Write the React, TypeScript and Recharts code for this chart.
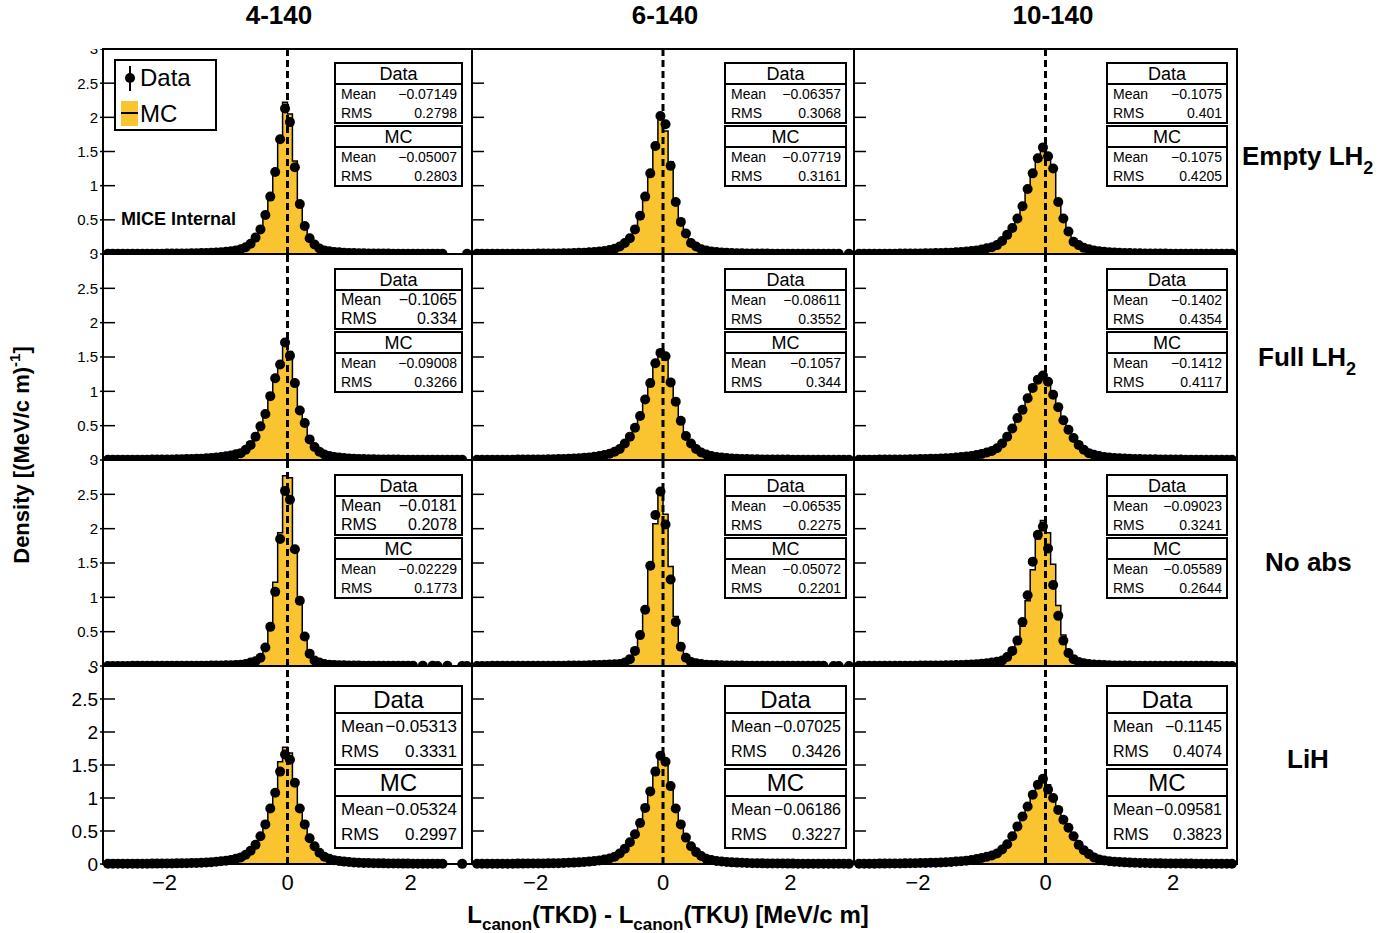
import React from "react";
import {
  ComposedChart,
  Area,
  Line,
  XAxis,
  YAxis,
  ReferenceLine,
} from "recharts";

// bin centres: 0.08 wide bins, x from -3 to 3
const binCenters = [
  -2.92, -2.84, -2.76, -2.68, -2.6, -2.52, -2.44, -2.36, -2.28, -2.2,
  -2.12, -2.04, -1.96, -1.88, -1.8, -1.72, -1.64, -1.56, -1.48, -1.4,
  -1.32, -1.24, -1.16, -1.08, -1.0, -0.92, -0.84, -0.76,
  -0.68, -0.6, -0.52, -0.44, -0.36, -0.28, -0.2, -0.12, -0.04,
  0.04, 0.12, 0.2, 0.28, 0.36, 0.44, 0.52, 0.6, 0.68,
  0.76, 0.84, 0.92, 1.0, 1.08, 1.16, 1.24, 1.32, 1.4, 1.48,
  1.56, 1.64, 1.72, 1.8, 1.88, 1.96, 2.04, 2.12, 2.2, 2.28,
  2.36, 2.44, 2.52, 2.6, 2.68, 2.76, 2.84, 2.92,
];

const columnTitles = ["4-140", "6-140", "10-140"];
const xTicks = [-2, 0, 2];
const yTicks = [0, 0.5, 1, 1.5, 2, 2.5, 3];

// ---- Empty LH2 ----
const empty4Data = [
  .002, .002, .002, .003, .003, .003, .003, .004, .004, .004,
  .005, .005, .006, .006, .007, .008, .009, .010, .011, .013,
  .015, .018, .021, .026, .032, .040, .052, .070,
  .10, .15, .24, .36, .57, .84, 1.20, 1.68, 2.13,
  1.93, 1.27, .73, .41, .23, .14, .08, .05, .04,
  .030, .024, .019, .016, .013, .011, .010, .009, .008, .007,
  .006, .006, .005, .005, .004, .004, .004, .003, .003, .003,
  .002, .002, .002, null, null, null, null, .002,
];
const empty4Mc = [
  .002, .002, .003, .003, .003, .003, .004, .004, .004, .005,
  .005, .005, .006, .007, .007, .008, .009, .010, .012, .013,
  .016, .018, .022, .026, .033, .041, .053, .071,
  .10, .15, .23, .37, .56, .85, 1.24, 1.71, 2.22,
  2.05, 1.36, .74, .40, .22, .13, .08, .05, .04,
  .031, .024, .020, .016, .014, .012, .010, .009, .008, .007,
  .006, .006, .005, .005, .004, .004, .004, .003, .003, .003,
  .002, .002, .002, .002, .001, .001, .001, .001,
];
const empty6Data = [
  .002, .002, .003, .003, .003, .003, .004, .004, .004, .005,
  .005, .005, .006, .007, .007, .008, .009, .011, .012, .014,
  .017, .020, .024, .029, .036, .045, .058, .078,
  .11, .16, .23, .36, .56, .84, 1.18, 1.58, 2.02,
  1.90, 1.29, .76, .47, .30, .16, .11, .07, .05,
  .036, .028, .022, .018, .015, .012, .011, .009, .008, .007,
  .007, .006, .005, .005, .004, .004, .004, .003, .003, .003,
  .003, .002, .002, .002, .002, .002, null, .002,
];
const empty6Mc = [
  .002, .002, .003, .003, .003, .004, .004, .004, .005, .005,
  .005, .006, .006, .007, .008, .009, .010, .011, .013, .015,
  .017, .021, .025, .030, .037, .046, .060, .080,
  .11, .16, .23, .37, .57, .85, 1.20, 1.62, 2.03,
  1.80, 1.35, .78, .46, .29, .17, .11, .07, .05,
  .037, .029, .023, .019, .015, .013, .011, .010, .009, .008,
  .007, .006, .006, .005, .005, .004, .004, .004, .003, .003,
  .003, .003, .002, .002, .002, .002, .002, .002,
];
const empty10Data = [
  .003, .003, .003, .004, .004, .004, .005, .005, .006, .006,
  .007, .008, .009, .010, .011, .013, .015, .017, .020, .024,
  .029, .035, .043, .053, .066, .083, .10, .13,
  .19, .28, .38, .52, .70, .95, 1.18, 1.40, 1.56,
  1.43, 1.25, .76, .52, .33, .18, .13, .09, .07,
  .052, .040, .032, .026, .021, .018, .015, .013, .011, .010,
  .009, .008, .007, .006, .006, .005, .005, .004, .004, .004,
  .003, .003, .003, .003, .002, .002, .002, .002,
];
const empty10Mc = [
  .003, .003, .004, .004, .004, .005, .005, .006, .006, .007,
  .008, .008, .009, .011, .012, .014, .016, .018, .021, .025,
  .030, .036, .044, .054, .067, .084, .10, .13,
  .19, .27, .38, .52, .70, .94, 1.20, 1.40, 1.55,
  1.46, 1.22, .80, .52, .33, .20, .13, .09, .07,
  .053, .041, .033, .027, .022, .018, .016, .014, .012, .010,
  .009, .008, .008, .007, .006, .006, .005, .005, .004, .004,
  .004, .003, .003, .003, .003, .002, .002, .002,
];

// ---- Full LH2 ----
const full4Data = [
  .002, .003, .003, .003, .004, .004, .004, .005, .005, .006,
  .006, .007, .008, .009, .010, .011, .013, .015, .017, .020,
  .024, .029, .035, .043, .053, .066, .082, .10,
  .15, .22, .34, .49, .67, .93, 1.19, 1.39, 1.71,
  1.52, 1.12, .72, .54, .30, .19, .12, .08, .06,
  .045, .035, .028, .023, .019, .016, .014, .012, .010, .009,
  .008, .007, .007, .006, .005, .005, .004, .004, .004, .003,
  .003, .003, .003, .002, .002, .002, .002, null,
];
const full4Mc = [
  .002, .003, .003, .003, .004, .004, .005, .005, .005, .006,
  .007, .007, .008, .009, .010, .012, .013, .015, .018, .021,
  .025, .030, .036, .044, .054, .067, .083, .10,
  .15, .22, .33, .48, .68, .92, 1.20, 1.42, 1.74,
  1.58, 1.10, .74, .50, .31, .19, .12, .08, .06,
  .046, .036, .029, .023, .019, .016, .014, .012, .011, .009,
  .008, .008, .007, .006, .006, .005, .005, .004, .004, .004,
  .003, .003, .003, .003, .002, .002, .002, .002,
];
const full6Data = [
  .003, .003, .003, .004, .004, .004, .005, .005, .006, .006,
  .007, .008, .008, .009, .011, .012, .014, .016, .019, .022,
  .026, .031, .038, .047, .058, .072, .090, .12,
  .16, .24, .34, .47, .64, .88, 1.12, 1.41, 1.56,
  1.51, 1.13, .85, .57, .35, .24, .16, .11, .08,
  .058, .044, .035, .028, .023, .019, .016, .014, .012, .011,
  .009, .008, .008, .007, .006, .006, .005, .005, .004, .004,
  .004, .003, .003, .003, .003, .003, .002, .002,
];
const full6Mc = [
  .003, .003, .003, .004, .004, .005, .005, .006, .006, .007,
  .007, .008, .009, .010, .011, .013, .014, .017, .019, .023,
  .027, .032, .039, .048, .059, .073, .091, .12,
  .16, .23, .34, .48, .66, .90, 1.15, 1.40, 1.58,
  1.50, 1.16, .86, .58, .36, .24, .16, .11, .08,
  .057, .044, .035, .028, .023, .019, .016, .014, .012, .011,
  .010, .009, .008, .007, .006, .006, .005, .005, .004, .004,
  .004, .003, .003, .003, .003, .002, .002, .002,
];
const full10Data = [
  .004, .004, .005, .005, .006, .006, .007, .008, .008, .009,
  .010, .012, .013, .015, .017, .019, .022, .026, .030, .035,
  .042, .050, .060, .073, .089, .11, .13, .17,
  .24, .34, .46, .61, .73, .90, 1.05, 1.17, 1.23,
  1.14, .95, .77, .58, .44, .32, .22, .15, .10,
  .075, .057, .045, .036, .030, .025, .021, .018, .016, .014,
  .012, .011, .010, .009, .008, .007, .007, .006, .005, .005,
  .005, .004, .004, .004, .003, .003, .003, .003,
];
const full10Mc = [
  .004, .004, .005, .005, .006, .007, .007, .008, .009, .010,
  .011, .012, .014, .015, .017, .020, .023, .026, .031, .036,
  .043, .051, .061, .074, .090, .11, .13, .17,
  .24, .33, .45, .60, .75, .91, 1.06, 1.18, 1.22,
  1.15, .97, .78, .59, .44, .32, .22, .15, .10,
  .074, .057, .045, .036, .030, .025, .021, .018, .016, .014,
  .012, .011, .010, .009, .008, .007, .007, .006, .005, .005,
  .005, .004, .004, .004, .003, .003, .003, .003,
];

// ---- No absorber ----
const noAbs4Data = [
  .001, .001, .001, .001, .001, .002, .002, .002, .002, .002,
  .002, .002, .003, .003, .003, .003, .004, .004, .004, .005,
  .005, .006, .007, .008, .010, .012, .015, .020,
  .03, .05, .07, .12, .27, .57, 1.08, 1.85, 2.55,
  2.42, 1.70, .95, .43, .18, .08, .05, .03, .02,
  .016, .012, .010, .008, .007, .006, .005, .005, .004, .004,
  .003, .003, .003, .003, .002, .002, .002, null, .002, null,
  .002, .001, null, .002, null, null, .001, .001,
];
const noAbs4Mc = [
  .001, .001, .001, .001, .001, .001, .002, .002, .002, .002,
  .002, .002, .002, .003, .003, .003, .003, .004, .004, .004,
  .005, .006, .006, .007, .009, .011, .014, .018,
  .03, .04, .07, .13, .28, .60, 1.22, 1.94, 2.77,
  2.74, 1.72, 1.00, .40, .18, .08, .05, .03, .02,
  .014, .011, .009, .007, .006, .005, .005, .004, .004, .003,
  .003, .003, .003, .002, .002, .002, .002, .002, .002, .001,
  .001, .001, .001, .001, .001, .001, .001, .001,
];
const noAbs6Data = [
  .001, .001, .001, .002, .002, .002, .002, .002, .002, .003,
  .003, .003, .003, .004, .004, .004, .005, .005, .006, .007,
  .008, .009, .011, .013, .015, .018, .021, .026,
  .03, .05, .10, .22, .45, .82, 1.46, 2.20, 2.54,
  2.06, 1.26, .64, .28, .12, .06, .04, .03, .02,
  .016, .013, .010, .009, .007, .006, .006, .005, .005, .004,
  .004, .003, .003, .003, .003, .002, .002, .002, .002, .002,
  .002, .002, .002, null, .001, .001, null, .001,
];
const noAbs6Mc = [
  .001, .001, .001, .001, .002, .002, .002, .002, .002, .002,
  .003, .003, .003, .003, .004, .004, .004, .005, .006, .006,
  .007, .008, .010, .012, .014, .017, .020, .025,
  .03, .05, .10, .22, .45, .85, 1.45, 2.07, 2.50,
  2.21, 1.45, .72, .33, .14, .07, .04, .03, .02,
  .015, .012, .010, .008, .007, .006, .005, .005, .004, .004,
  .003, .003, .003, .003, .002, .002, .002, .002, .002, .002,
  .002, .001, .001, .001, .001, .001, .001, .001,
];
const noAbs10Data = [
  .002, .002, .002, .002, .003, .003, .003, .003, .004, .004,
  .005, .005, .006, .006, .007, .008, .009, .010, .012, .014,
  .016, .019, .023, .027, .033, .041, .050, .062,
  .08, .13, .22, .37, .64, 1.03, 1.52, 1.91, 2.03,
  1.71, 1.18, .73, .37, .19, .10, .06, .04, .03,
  .022, .017, .014, .011, .009, .008, .007, .006, .005, .005,
  .004, .004, .004, .003, .003, .003, .003, .002, .002, .002,
  .002, .002, .002, .002, .001, .001, .001, .001,
];
const noAbs10Mc = [
  .001, .002, .002, .002, .002, .002, .003, .003, .003, .004,
  .004, .004, .005, .005, .006, .007, .007, .008, .010, .011,
  .013, .015, .018, .022, .027, .033, .041, .052,
  .08, .12, .20, .34, .58, .95, 1.40, 1.85, 2.12,
  1.94, 1.48, .88, .45, .20, .10, .06, .04, .03,
  .020, .016, .013, .010, .009, .007, .006, .006, .005, .004,
  .004, .004, .003, .003, .003, .003, .002, .002, .002, .002,
  .002, .002, .001, .001, .001, .001, .001, .001,
];

// ---- LiH ----
const lih4Data = [
  .003, .003, .003, .003, .004, .004, .004, .005, .005, .006,
  .006, .007, .008, .009, .010, .011, .012, .014, .017, .020,
  .023, .028, .034, .041, .050, .062, .078, .10,
  .14, .20, .29, .42, .60, .84, 1.08, 1.40, 1.66,
  1.58, 1.23, .84, .60, .39, .27, .17, .11, .08,
  .058, .045, .036, .029, .024, .020, .017, .015, .013, .011,
  .010, .009, .008, .007, .006, .006, .005, .005, .004, .004,
  .004, .003, .003, null, null, null, .002, null,
];
const lih4Mc = [
  .002, .003, .003, .003, .003, .004, .004, .004, .005, .005,
  .006, .006, .007, .008, .009, .010, .011, .013, .015, .018,
  .021, .025, .031, .038, .047, .058, .074, .096,
  .13, .19, .28, .42, .60, .86, 1.12, 1.55, 1.77,
  1.68, 1.25, .82, .58, .37, .25, .16, .10, .07,
  .053, .041, .033, .027, .022, .018, .016, .014, .012, .010,
  .009, .008, .007, .007, .006, .005, .005, .004, .004, .004,
  .003, .003, .003, .003, .002, .002, .002, .002,
];
const lih6Data = [
  .003, .003, .003, .004, .004, .004, .005, .005, .006, .006,
  .007, .007, .008, .009, .010, .012, .013, .015, .018, .021,
  .025, .030, .036, .044, .054, .067, .084, .11,
  .16, .23, .33, .45, .62, .85, 1.10, 1.40, 1.64,
  1.55, 1.18, .84, .60, .40, .27, .18, .12, .08,
  .060, .046, .037, .030, .025, .021, .018, .015, .013, .012,
  .010, .009, .008, .008, .007, .006, .006, .005, .005, .004,
  .004, .004, .003, .003, .003, .003, .003, .002,
];
const lih6Mc = [
  .003, .003, .003, .003, .004, .004, .005, .005, .005, .006,
  .006, .007, .008, .009, .010, .011, .013, .015, .017, .020,
  .024, .029, .035, .043, .052, .065, .082, .11,
  .15, .22, .32, .45, .63, .87, 1.14, 1.45, 1.62,
  1.58, 1.20, .85, .58, .38, .26, .17, .11, .08,
  .058, .045, .036, .029, .024, .020, .017, .015, .013, .011,
  .010, .009, .008, .007, .007, .006, .005, .005, .005, .004,
  .004, .004, .003, .003, .003, .003, .002, .002,
];
const lih10Data = [
  .004, .004, .005, .005, .006, .006, .007, .008, .009, .010,
  .011, .012, .014, .016, .018, .020, .023, .027, .031, .037,
  .043, .051, .061, .074, .090, .11, .13, .16,
  .22, .30, .42, .57, .72, .87, 1.05, 1.20, 1.29,
  1.13, 1.00, .82, .67, .55, .42, .29, .21, .15,
  .10, .070, .054, .043, .035, .029, .025, .021, .018, .016,
  .014, .013, .011, .010, .009, .008, .008, .007, .006, .006,
  .005, .005, .005, .004, .004, .004, .003, .003,
];
const lih10Mc = [
  .004, .004, .004, .005, .005, .006, .007, .007, .008, .009,
  .010, .012, .013, .015, .017, .019, .022, .026, .030, .035,
  .042, .050, .060, .072, .088, .11, .13, .16,
  .21, .29, .41, .56, .72, .88, 1.06, 1.21, 1.30,
  1.20, 1.02, .84, .68, .54, .40, .29, .21, .15,
  .10, .071, .055, .044, .036, .030, .025, .022, .019, .016,
  .014, .013, .011, .010, .009, .008, .008, .007, .006, .006,
  .005, .005, .005, .004, .004, .004, .003, .003,
];

// stat box texts: [data mean, data rms, mc mean, mc rms]
const statsEmpty = [
  ["\u22120.07149", "0.2798", "\u22120.05007", "0.2803"],
  ["\u22120.06357", "0.3068", "\u22120.07719", "0.3161"],
  ["\u22120.1075", "0.401", "\u22120.1075", "0.4205"],
];
const statsFull = [
  ["\u22120.1065", "0.334", "\u22120.09008", "0.3266"],
  ["\u22120.08611", "0.3552", "\u22120.1057", "0.344"],
  ["\u22120.1402", "0.4354", "\u22120.1412", "0.4117"],
];
const statsNoAbs = [
  ["\u22120.0181", "0.2078", "\u22120.02229", "0.1773"],
  ["\u22120.06535", "0.2275", "\u22120.05072", "0.2201"],
  ["\u22120.09023", "0.3241", "\u22120.05589", "0.2644"],
];
const statsLih = [
  ["\u22120.05313", "0.3331", "\u22120.05324", "0.2997"],
  ["\u22120.07025", "0.3426", "\u22120.06186", "0.3227"],
  ["\u22120.1145", "0.4074", "\u22120.09581", "0.3823"],
];

const rowsData = [
  [[empty4Data, empty4Mc], [empty6Data, empty6Mc], [empty10Data, empty10Mc]],
  [[full4Data, full4Mc], [full6Data, full6Mc], [full10Data, full10Mc]],
  [[noAbs4Data, noAbs4Mc], [noAbs6Data, noAbs6Mc], [noAbs10Data, noAbs10Mc]],
  [[lih4Data, lih4Mc], [lih6Data, lih6Mc], [lih10Data, lih10Mc]],
];
const rowsStats = [statsEmpty, statsFull, statsNoAbs, statsLih];

// page geometry
const COLS = [
  { x0: 103, x1: 472 },
  { x0: 472, x1: 854 },
  { x0: 854, x1: 1237 },
];
const ROWS = [
  { y0: 49, y1: 254 },
  { y0: 254, y1: 460 },
  { y0: 460, y1: 666 },
  { y0: 666, y1: 864 },
];
const BOX_LEFT = [334, 724, 1106];
const BOX_W = [129, 123, 122];
const BOX_TOP = [62, 268, 474, 685];
// body font sizes [data, mc]
const BOX_FONT = [
  [[14, 14], [14, 14], [14, 14]],
  [[16, 14], [14, 14], [14, 14]],
  [[16, 14], [14, 14], [14, 14]],
  [[17, 17], [16, 16], [16, 16]],
];

const FONT = '"Liberation Sans", Arial, Helvetica, sans-serif';
const YELLOW = "#f9c42f";
const LEFT_PAD = 60;

const minus = (v: number) => (v < 0 ? "\u2212" + Math.abs(v) : String(v));

function StatBox({
  left, top, width, height, head, title, mean, rms, titleSize, bodySize,
}: any) {
  const body = (height - 4 - head - 2) / 2;
  const rowStyle: React.CSSProperties = {
    display: "flex",
    justifyContent: "space-between",
    alignItems: "center",
    height: body,
    padding: "0 4px 0 5px",
    fontSize: bodySize,
    whiteSpace: "nowrap",
  };
  return (
    <div
      style={{
        position: "absolute",
        left,
        top,
        width,
        height,
        border: "2px solid #000",
        boxSizing: "border-box",
        background: "#fff",
        lineHeight: 1,
      }}
    >
      <div
        style={{
          height: head,
          borderBottom: "2px solid #000",
          fontSize: titleSize,
          display: "flex",
          alignItems: "center",
          justifyContent: "center",
        }}
      >
        {title}
      </div>
      <div style={rowStyle}>
        <span>Mean</span>
        <span>{mean}</span>
      </div>
      <div style={rowStyle}>
        <span>RMS</span>
        <span>{rms}</span>
      </div>
    </div>
  );
}

function Panel({ r, c }: { r: number; c: number }) {
  const [dat, mc] = rowsData[r][c];
  const rows = binCenters.map((x, i) => ({ x, data: dat[i], mc: mc[i] }));
  const { x0, x1 } = COLS[c];
  const { y0, y1 } = ROWS[r];
  const ml = c === 0 ? LEFT_PAD : 0;
  const bottom = r === 3;
  const w = x1 - x0 + ml;
  const h = y1 - y0 + (bottom ? 34 : 0);
  const labelSize = bottom ? 19 : 15;

  const renderYTick = (props: any) => {
    const { y, payload } = props;
    return (
      <g>
        <line
          x1={ml - (c === 0 ? 3 : 0)}
          x2={ml + 12}
          y1={y}
          y2={y}
          stroke="#000"
          strokeWidth={1.5}
        />
        {c === 0 && (
          <text
            x={ml - 5}
            y={y}
            dy="0.36em"
            textAnchor="end"
            fontSize={labelSize}
            fill="#000"
          >
            {payload.value}
          </text>
        )}
      </g>
    );
  };

  return (
    <div style={{ position: "absolute", left: x0 - ml, top: y0 }}>
      <ComposedChart
        width={w}
        height={h}
        data={rows}
        margin={{ top: 0, right: 0, bottom: 0, left: ml }}
      >
        <XAxis
          dataKey="x"
          type="number"
          domain={[-3, 3]}
          ticks={xTicks}
          hide={!bottom}
          height={34}
          axisLine={false}
          tickLine={false}
          tickSize={0}
          tickMargin={10}
          interval={0}
          tickFormatter={minus}
          tick={{ fontSize: 22, fill: "#000" }}
        />
        <YAxis
          type="number"
          domain={[0, 3]}
          ticks={yTicks}
          interval={0}
          mirror
          axisLine={false}
          tickLine={false}
          tick={renderYTick}
        />
        <Area
          dataKey="mc"
          type="step"
          fill={YELLOW}
          fillOpacity={1}
          stroke="#000"
          strokeWidth={1.5}
          isAnimationActive={false}
        />
        <ReferenceLine
          x={0}
          stroke="#000"
          strokeWidth={3}
          strokeDasharray="7 4"
        />
        <Line
          dataKey="data"
          stroke="none"
          dot={{ r: 5, fill: "#000", stroke: "none" }}
          activeDot={false}
          isAnimationActive={false}
        />
      </ComposedChart>
    </div>
  );
}

function Frames() {
  const out: React.ReactNode[] = [];
  ROWS.forEach((rw, r) =>
    COLS.forEach((cl, c) =>
      out.push(
        <div
          key={`f${r}${c}`}
          style={{
            position: "absolute",
            left: cl.x0 - 1,
            top: rw.y0 - 1,
            width: cl.x1 - cl.x0 + 2,
            height: rw.y1 - rw.y0 + 2,
            border: "2px solid #000",
            boxSizing: "border-box",
            pointerEvents: "none",
          }}
        />
      )
    )
  );
  return <>{out}</>;
}

function Boxes() {
  const out: React.ReactNode[] = [];
  rowsStats.forEach((rowStats, r) =>
    rowStats.forEach((s, c) => {
      const big = r === 3;
      const height = big ? 81 : 62;
      const head = big ? 25 : 19;
      const titleSize = big ? 24 : 18;
      const [fd, fm] = BOX_FONT[r][c];
      out.push(
        <StatBox
          key={`d${r}${c}`}
          left={BOX_LEFT[c]}
          top={BOX_TOP[r]}
          width={BOX_W[c]}
          height={height}
          head={head}
          title="Data"
          mean={s[0]}
          rms={s[1]}
          titleSize={titleSize}
          bodySize={fd}
        />,
        <StatBox
          key={`m${r}${c}`}
          left={BOX_LEFT[c]}
          top={BOX_TOP[r] + height + (big ? 2 : 1)}
          width={BOX_W[c]}
          height={height}
          head={head}
          title="MC"
          mean={s[2]}
          rms={s[3]}
          titleSize={titleSize}
          bodySize={fm}
        />
      );
    })
  );
  return <>{out}</>;
}

function Legend() {
  return (
    <div
      style={{
        position: "absolute",
        left: 114,
        top: 59,
        width: 103,
        height: 72,
        border: "2px solid #000",
        boxSizing: "border-box",
        background: "#fff",
      }}
    >
      <svg width={24} height={68} style={{ position: "absolute", left: 2, top: 0 }}>
        <line x1={12} x2={12} y1={5} y2={30} stroke="#000" strokeWidth={2} />
        <circle cx={12} cy={17} r={5} fill="#000" />
        <rect x={3} y={40} width={17} height={25} fill={YELLOW} />
        <line x1={3} x2={20} y1={52} y2={52} stroke="#000" strokeWidth={2} />
      </svg>
      <div style={{ position: "absolute", left: 24, top: 3, fontSize: 24, lineHeight: "28px" }}>
        Data
      </div>
      <div style={{ position: "absolute", left: 24, top: 39, fontSize: 24, lineHeight: "28px" }}>
        MC
      </div>
    </div>
  );
}

const rowLabelStyle: React.CSSProperties = {
  position: "absolute",
  fontSize: 26,
  fontWeight: "bold",
  whiteSpace: "nowrap",
  lineHeight: 1,
};
const sub = (t: string, size: number, drop: number) => (
  <span style={{ fontSize: size, position: "relative", top: drop }}>{t}</span>
);

export default function App() {
  const panels: React.ReactNode[] = [];
  for (let r = 0; r < 4; r++)
    for (let c = 0; c < 3; c++) panels.push(<Panel key={`p${r}${c}`} r={r} c={c} />);

  return (
    <div
      style={{
        position: "absolute",
        left: 0,
        top: 0,
        width: 1379,
        height: 933,
        background: "#fff",
        fontFamily: FONT,
        color: "#000",
        overflow: "hidden",
      }}
    >
      {panels}
      <Frames />
      <Boxes />
      <Legend />
      <div
        style={{
          position: "absolute",
          left: 121,
          top: 209,
          fontSize: 18,
          fontWeight: "bold",
          lineHeight: "20px",
        }}
      >
        MICE Internal
      </div>

      {columnTitles.map((t, i) => (
        <div
          key={t}
          style={{
            position: "absolute",
            left: [279, 665, 1053][i],
            top: 2,
            transform: "translateX(-50%)",
            fontSize: 26,
            fontWeight: "bold",
            lineHeight: 1,
          }}
        >
          {t}
        </div>
      ))}

      <div style={{ ...rowLabelStyle, left: 1242, top: 143 }}>
        Empty LH{sub("2", 18, 9)}
      </div>
      <div style={{ ...rowLabelStyle, left: 1258, top: 344 }}>
        Full LH{sub("2", 18, 9)}
      </div>
      <div style={{ ...rowLabelStyle, left: 1265, top: 549 }}>No abs</div>
      <div style={{ ...rowLabelStyle, left: 1287, top: 746 }}>LiH</div>

      <div
        style={{
          position: "absolute",
          left: 22,
          top: 455,
          transform: "translate(-50%, -50%) rotate(-90deg)",
          fontSize: 22,
          fontWeight: "bold",
          whiteSpace: "nowrap",
          lineHeight: 1,
        }}
      >
        Density [(MeV/c m)
        <span style={{ fontSize: 15, position: "relative", top: -9 }}>-1</span>]
      </div>

      <div
        style={{
          position: "absolute",
          left: 668,
          top: 903,
          transform: "translateX(-50%)",
          fontSize: 24,
          fontWeight: "bold",
          whiteSpace: "nowrap",
          lineHeight: 1,
        }}
      >
        L{sub("canon", 17, 7)}(TKD) - L{sub("canon", 17, 7)}(TKU) [MeV/c m]
      </div>
    </div>
  );
}
